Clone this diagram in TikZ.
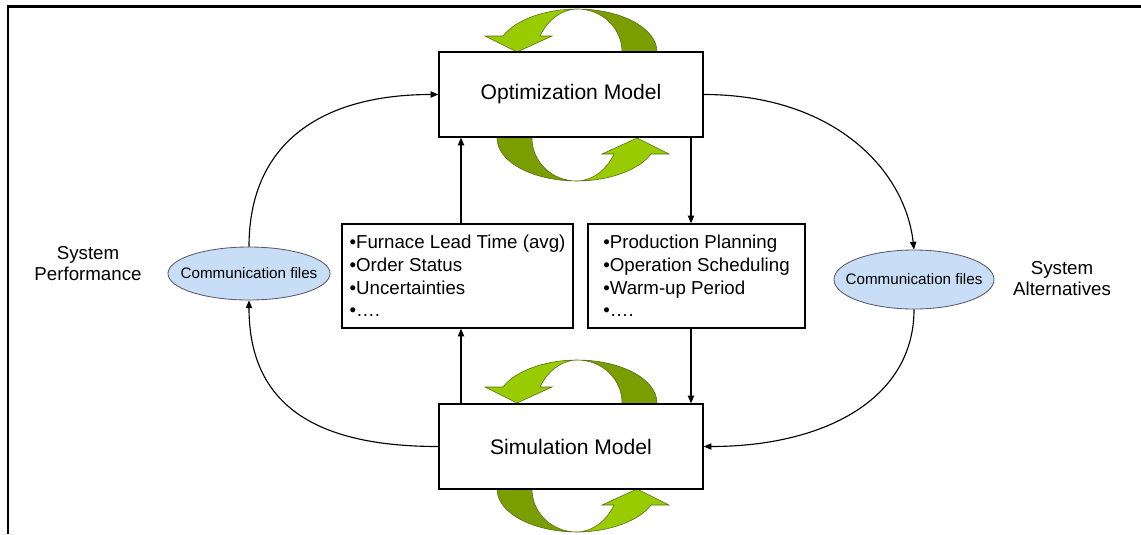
\documentclass[tikz,border=0pt]{standalone}
\usepackage{fontspec}
\setmainfont{Liberation Sans}
\usetikzlibrary{arrows.meta,shapes.geometric}
\definecolor{leafhi}{RGB}{153,204,0}
\definecolor{leaflo}{RGB}{122,158,0}
\definecolor{leafedge}{RGB}{85,105,25}
\definecolor{filefill}{RGB}{200,222,246}
\definecolor{fileedge}{RGB}{90,90,100}

\tikzset{
  model/.style={draw, line width=0.9pt, fill=white, minimum width=6.6cm,
    minimum height=2.125cm, font=\fontsize{15}{18}\selectfont},
  listbox/.style={draw, line width=0.9pt, fill=white, align=left,
    minimum height=2.6cm, font=\fontsize{13.3}{16.1}\selectfont},
  filenode/.style={ellipse, draw=fileedge, line width=0.6pt, fill=filefill,
    inner xsep=-10pt, inner ysep=0pt, font=\fontsize{10.8}{13}\selectfont},
  sidelabel/.style={align=center, font=\fontsize{13.3}{15}\selectfont},
  flow/.style={line width=0.8pt, -{Triangle[length=5.5pt,width=4.5pt]}},
  % curved "cycle" arrow: dark back half on the right, light front half with head on the left
  cycarrow/.pic={
    \filldraw[fill=leaflo, draw=leafedge, line width=0.4pt]
      (0,-86) .. controls (44,-86) and (80,-67) .. (80,-43) -- (80,-36)
      -- (45,-36) -- (45,-43) .. controls (45,-67) and (25,-86) .. (0,-86) -- cycle;
    \filldraw[fill=leafhi, draw=leafedge, line width=0.4pt]
      (0,-86) .. controls (-32,-86) and (-62,-75) .. (-74,-59)
      -- (-92,-59) -- (-60,-43) -- (-25,-59) -- (-37,-59)
      .. controls (-28,-78) and (-12,-86) .. (0,-86) -- cycle;
  }
}

\begin{document}
\begin{tikzpicture}[x=0.025cm, y=-0.025cm]
\useasboundingbox (0,0) rectangle (1141,534);

% rotating arrows around both models
\pic at (577,95) {cycarrow};
\pic[rotate=180] at (577,95) {cycarrow};
\pic at (577,446) {cycarrow};
\pic[rotate=180] at (577,446) {cycarrow};

% frame
\draw[line width=1.5pt] (8,534) -- (8,6.5) -- (1141,6.5);

% main blocks
\node[model] (opt) at (571,94.5) {Optimization Model};
\node[model] (sim) at (571,446.5) {Simulation Model};

\node[listbox, minimum width=5.775cm] (inlist) at (457.5,276)
  {•Furnace Lead Time (avg)\\•Order Status\\•Uncertainties\\•….};
\node[listbox, minimum width=5.425cm] (outlist) at (696.5,276)
  {•Production Planning\\•Operation Scheduling\\•Warm-up Period\\•….};

\node[filenode, minimum width=4.05cm, minimum height=1.325cm] (fileL) at (249,273.5)
  {Communication files};
\node[filenode, minimum width=4.0cm, minimum height=1.475cm] (fileR) at (914,279.5)
  {Communication files};

\node[sidelabel] (perf) at (88,264) {System\\Performance};
\node[sidelabel] (alt) at (1062,279) {System\\Alternatives};

% vertical data links
\coordinate (cl) at (461,0);
\coordinate (cr) at (691,0);
\draw[flow] (inlist.north -| cl) -- (opt.south -| cl);
\draw[flow] (sim.north -| cl) -- (inlist.south -| cl);
\draw[flow] (opt.south -| cr) -- (outlist.north -| cr);
\draw[flow] (outlist.south -| cr) -- (sim.north -| cr);

% outer loops through the communication files
\draw[flow] (fileL.north) .. controls +(0,-105) and +(-115,0) .. (opt.west);
\draw[flow] (sim.west) .. controls +(-115,0) and +(0,110) .. (fileL.south);
\draw[flow] (opt.east) .. controls +(130,0) and +(-9,-80) .. (fileR.north);
\draw[flow] (fileR.south) .. controls +(0,90) and +(120,0) .. (sim.east);
\end{tikzpicture}
\end{document}
